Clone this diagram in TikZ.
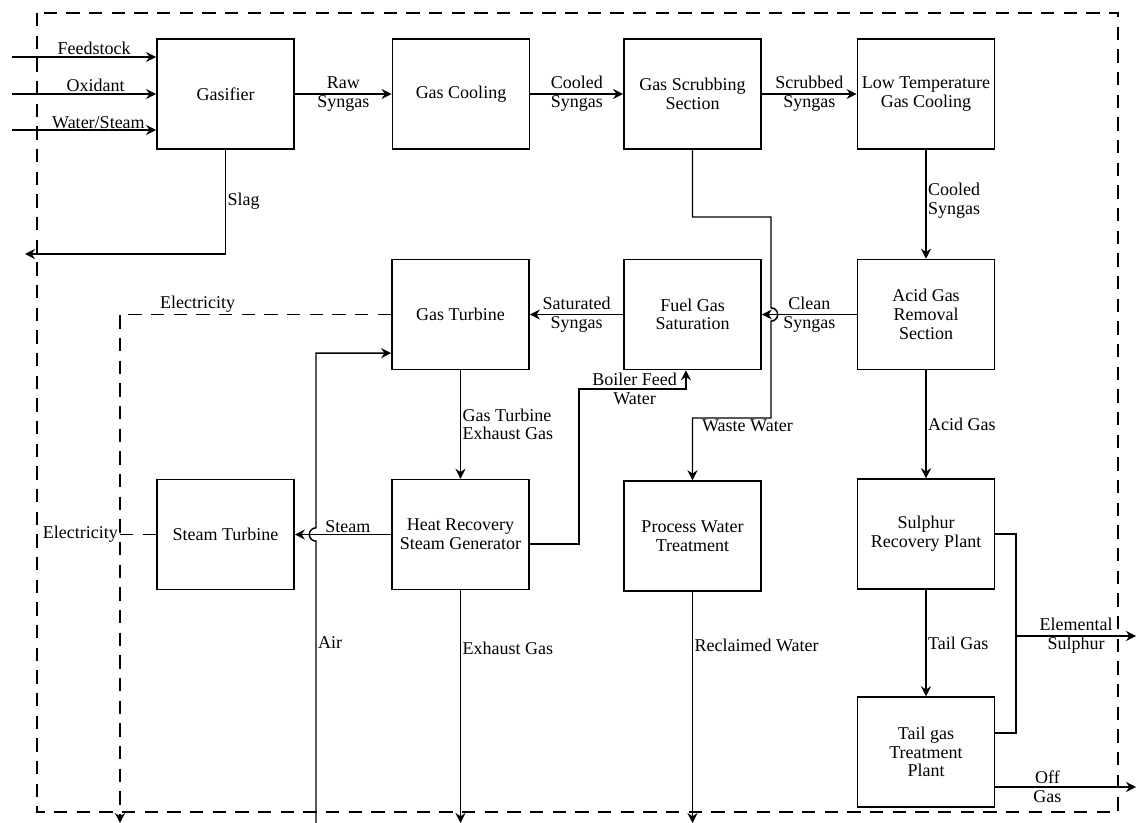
\documentclass[tikz,border=0pt]{standalone}
\usepackage{fontspec}
\setmainfont{Liberation Serif}
\usetikzlibrary{arrows.meta, calc}

\tikzset{
  unit/.style={draw, line width=1.1pt, minimum width=103pt, minimum height=82.5pt, align=center, inner sep=1pt},
  pipe/.style={line width=1.1pt},
  flow/.style={pipe, -{Stealth[length=7.5pt, width=7.5pt, inset=2.5pt]}},
  elec/.style={line width=1.1pt, dash pattern=on 10pt off 7pt},
  lbl/.style={align=center, inner sep=1pt}
}

\begin{document}
\begin{tikzpicture}[x=0.75pt, y=-0.75pt, font=\fontsize{13.5}{14}\selectfont]
                \useasboundingbox (0,0) rectangle (1136,823);
                \draw[elec] (37,13) rectangle (1118,812);

                \node[unit] (gasifier) at (225.5,94) {Gasifier};
                \node[unit] (gascool) at (461,94) {Gas Cooling};
                \node[unit] (scrub) at (692.5,94) {Gas Scrubbing\\Section};
                \node[unit] (ltgc) at (926,94) {Low Temperature\\Gas Cooling};
                \node[unit] (agr) at (926,314.5) {Acid Gas\\Removal\\Section};
                \node[unit] (fgs) at (692.5,314.5) {Fuel Gas\\Saturation};
                \node[unit] (gt) at (460.5,314.5) {Gas Turbine};
                \node[unit] (hrsg) at (460.5,534.5) {Heat Recovery\\Steam Generator};
                \node[unit] (st) at (225.5,534.5) {Steam Turbine};
                \node[unit] (pwt) at (692.5,536) {Process Water\\Treatment};
                \node[unit] (srp) at (926,534) {Sulphur\\Recovery Plant};
                \node[unit] (tgtp) at (926,752) {Tail gas\\Treatment\\Plant};

                \coordinate (feed) at (12,57);
                \coordinate (oxid) at (12,94);
                \coordinate (water) at (12,130);
                \coordinate (slagout) at (25,254);
                \coordinate (ww1) at (771,217);
                \coordinate (ww2) at (771,418);
                \coordinate (hop1) at (771,314.5);
                \coordinate (hop2) at (316,534.5);
                \coordinate (airin) at (316,823);
                \coordinate (airgt) at ([yshift=-29pt]gt.west);
                \coordinate (bf2) at (579,389);
                \coordinate (bfin) at ([xshift=-4.9pt]fgs.south);
                \coordinate (exout) at (460.5,823);
                \coordinate (rwout) at (692.5,823);
                \coordinate (sj1) at (1016,636);
                \coordinate (sout) at (1136,636);
                \coordinate (ogout) at (1136,787);
                \coordinate (eldown) at (120,823);

                \draw[flow] (feed) -- (feed -| gasifier.west) node[lbl, pos=0.57, above] {Feedstock};
                \draw[flow] (oxid) -- (gasifier) node[lbl, pos=0.58, above] {Oxidant};
                \draw[flow] (water) -- (water -| gasifier.west) node[lbl, pos=0.6, above, inner sep=0pt] {Water/Steam};
                \draw[flow] (gasifier.south) |- (slagout) node[lbl, pos=0.245, right] {Slag};

                \draw[flow] (gasifier) -- (gascool) node[lbl, midway] {Raw\\Syngas};
                \draw[flow] (gascool) -- (scrub) node[lbl, midway] {Cooled\\Syngas};
                \draw[flow] (scrub) -- (ltgc) node[lbl, midway] {Scrubbed\\Syngas};
                \draw[flow] (ltgc) -- (agr) node[lbl, pos=0.47, right] {Cooled\\Syngas};
                \draw[flow] (agr) -- (fgs) node[lbl, midway] {Clean\\Syngas};
                \draw[flow] (fgs) -- (gt) node[lbl, midway] {Saturated\\Syngas};

                \draw[flow] (scrub.south) |- (ww1) -- ([yshift=5pt]hop1) arc[start angle=90, end angle=-90, radius=5pt] -- (ww2) -| (pwt.north) node[lbl, pos=0.15, below] {Waste Water};

                \draw[flow] (gt) -- (hrsg) node[lbl, midway, right, align=left] {Gas Turbine\\Exhaust Gas};
                \draw[flow] ([yshift=-7.1pt]hrsg.east) -| (bf2) -| (bfin) node[lbl, pos=0.26] {Boiler Feed\\Water};
                \draw[flow] (hrsg) -- (st) node[lbl, pos=0.45, above] {Steam};
                \draw[flow] (airin) -- node[lbl, pos=0.64, right] {Air} ([yshift=-5pt]hop2) arc[start angle=270, end angle=90, radius=5pt] -- (airin |- airgt) -- (airgt);

                \draw[flow] (hrsg) -- (exout) node[lbl, pos=0.25, right] {Exhaust Gas};
                \draw[flow] (pwt) -- (rwout) node[lbl, pos=0.23, right] {Reclaimed Water};

                \draw[flow] (agr) -- (srp) node[lbl, midway, right] {Acid Gas};
                \draw[flow] (srp) -- (tgtp) node[lbl, midway, right] {Tail Gas};
                \draw[pipe] (srp.east) -| (sj1) |- ([yshift=14.3pt]tgtp.east);
                \draw[flow] (sj1) -- (sout) node[lbl, midway] {Elemental\\Sulphur};
                \draw[flow] (tgtp.east |- ogout) -- (ogout) node[lbl, pos=0.37] {Off\\Gas};

                \draw[elec, -{Stealth[length=7.5pt, width=7.5pt, inset=2.5pt]}] (gt.west) -| (eldown) node[lbl, pos=0.357, above] {Electricity};
                \draw[elec] (st.west) -- (st.west -| eldown) node[lbl, left] {Electricity};
\end{tikzpicture}
\end{document}
